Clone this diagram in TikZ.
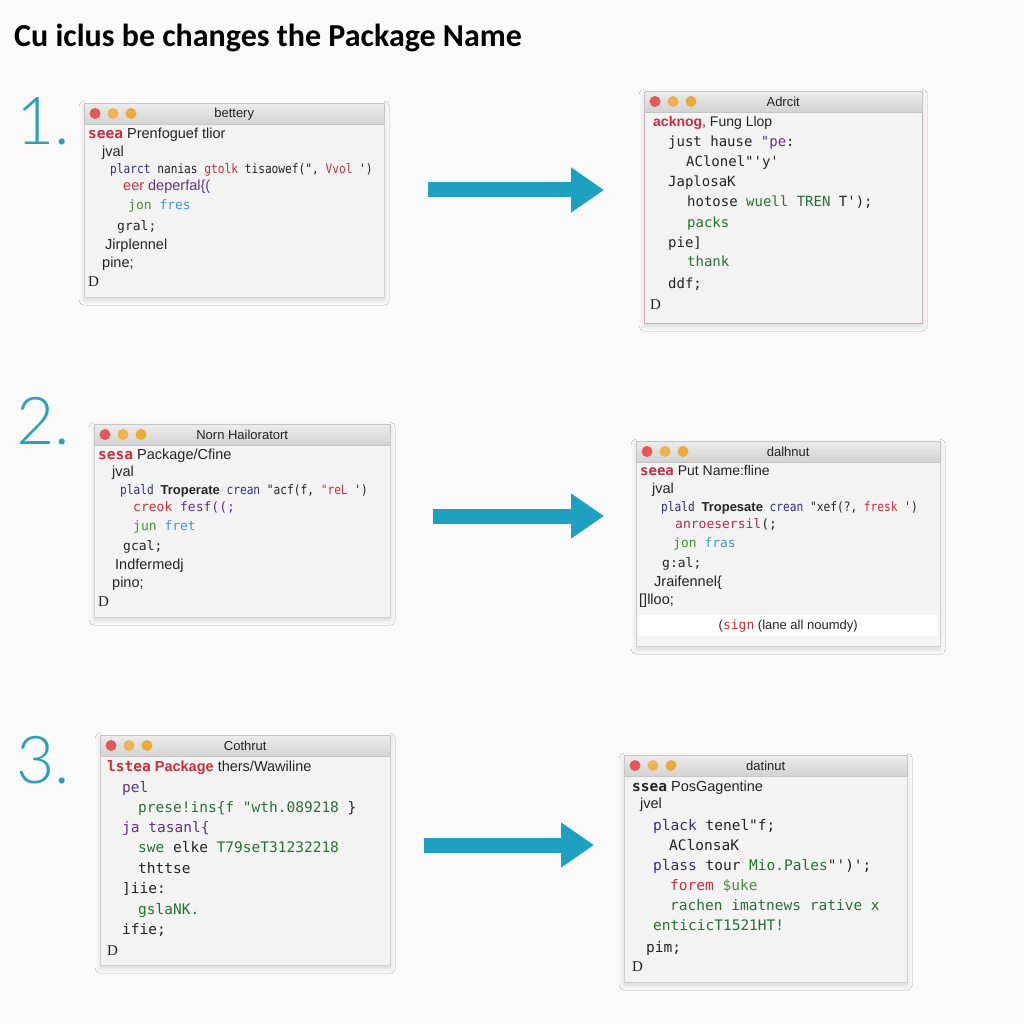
\documentclass[tikz,border=0pt]{standalone}
\usepackage{fontspec}
\setmainfont{Liberation Sans}
\newfontfamily\codefont{DejaVu Sans Mono}
\newfontfamily\codenarrow{DejaVu Sans Mono}[FakeStretch=0.86]
\newfontfamily\headfont{Carlito}
\newfontfamily\numfont{Lato Light}
\newfontfamily\dfont{Liberation Serif}
\usetikzlibrary{arrows.meta,calc,shadows.blur}

\definecolor{pagebg}{RGB}{250,250,250}
\definecolor{winbg}{RGB}{243,243,243}
\definecolor{barhi}{RGB}{236,236,236}
\definecolor{barlo}{RGB}{210,210,210}
\definecolor{winpink}{RGB}{214,172,182}
\definecolor{tealc}{RGB}{30,160,192}
\definecolor{numc}{RGB}{45,160,185}
\definecolor{kred}{RGB}{200,45,60}
\definecolor{knavy}{RGB}{50,45,125}
\definecolor{kpurp}{RGB}{95,50,135}
\definecolor{kgreen}{RGB}{75,140,55}
\definecolor{kdgreen}{RGB}{40,110,55}
\definecolor{kblue}{RGB}{70,150,200}
\definecolor{ktext}{RGB}{35,35,35}
\definecolor{dotr}{RGB}{228,88,90}
\definecolor{doto}{RGB}{240,178,80}
\definecolor{doty}{RGB}{236,170,60}

\begin{document}
\begin{tikzpicture}[
  x=1pt,y=-1pt,
  win/.style={draw=gray!35,fill=winbg,anchor=north west,inner sep=0pt,
    blur shadow={shadow xshift=0pt,shadow yshift=-3pt,shadow blur radius=5pt,shadow opacity=14}},
  bar/.style={anchor=north west,minimum height=21pt,inner sep=0pt,top color=barhi,bottom color=barlo,
    draw=gray!45,text=ktext,font=\fontsize{13}{13}\selectfont},
  cl/.style={anchor=west,inner sep=0pt,text height=10pt,text depth=3pt,text=ktext,
    font=\codefont\fontsize{13}{13}\selectfont},
  cln/.style={cl,font=\codenarrow\fontsize{13}{13}\selectfont},
  clm/.style={cl,font=\codefont\fontsize{14}{14}\selectfont},
  clb/.style={cl,font=\codefont\fontsize{14.5}{14.5}\selectfont},
  sl/.style={cl,font=\fontsize{14.5}{14.5}\selectfont},
  slm/.style={cl,font=\fontsize{14}{14}\selectfont},
  slb/.style={cl,font=\fontsize{14.5}{14.5}\selectfont},
  dl/.style={cl,font=\dfont\fontsize{15}{15}\selectfont},
  num/.style={anchor=west,inner sep=0pt,text=numc,font=\numfont\fontsize{66}{66}\selectfont},
  bigarrow/.style={draw=tealc,line width=15pt,-{Triangle[length=33pt,width=43pt]}}]

  \fill[pagebg] (0,0) rectangle (1024,1024);
  \useasboundingbox (0,0) rectangle (1024,1024);

  % title
  \node[anchor=base west,inner sep=0pt,font=\headfont\bfseries\fontsize{32}{32}\selectfont] (title) at (14,47)
    {Cu iclus be changes the Package Name};

  % step numbers
  \node[num] (n1) at (16,121) {1.};
  \node[num] (n2) at (16,421) {2.};
  \node[num] (n3) at (16,760) {3.};

  % ================= windows =================
  \node[win,minimum width=300pt,minimum height=194pt] (w1) at (84,103) {};
  \node[bar,minimum width=300pt] (w1bar) at (w1.north west) {bettery};
  \node[win,draw=winpink,minimum width=278pt,minimum height=232pt] (w2) at (644,91) {};
  \node[bar,minimum width=278pt] (w2bar) at (w2.north west) {Adrcit};
  \node[win,minimum width=296pt,minimum height=193pt] (w3) at (94,424) {};
  \node[bar,minimum width=296pt] (w3bar) at (w3.north west) {Norn Hailoratort};
  \node[win,minimum width=304pt,minimum height=205pt] (w4) at (636,441) {};
  \node[bar,minimum width=304pt] (w4bar) at (w4.north west) {dalhnut};
  \node[win,minimum width=290pt,minimum height=230pt] (w5) at (100,735) {};
  \node[bar,minimum width=290pt] (w5bar) at (w5.north west) {Cothrut};
  \node[win,minimum width=283pt,minimum height=227pt] (w6) at (624,755) {};
  \node[bar,minimum width=283pt] (w6bar) at (w6.north west) {datinut};

  % window buttons
  \foreach \w in {w1,w2,w3,w4,w5,w6}
    \foreach \c/\dx in {dotr/11,doto/29,doty/47}
      \fill[\c] ($(\w.north west)+(\dx,10.5)$) circle[radius=5.5pt];

  % ================= step 1 =================
  \node[sl] (w1a) at (88,135) {{\codefont\bfseries\textcolor{kred}{seea}} Prenfoguef tlior};
  \node[sl] (w1b) at (102,153) {jval};
  \node[cln] (w1c) at (110,170)
    {\textcolor{knavy}{plarct} nanias \textcolor{kred}{gtolk} tisaowef(", \textcolor{kred}{Vvol} ')};
  \node[sl] (w1d) at (123,187) {\textcolor{kred}{eer} \textcolor{kpurp}{deperfal\{(}};
  \node[cl] (w1e) at (128,206) {\textcolor{kgreen}{jon} \textcolor{kblue}{fres}};
  \node[cl] (w1f) at (117,227) {gral;};
  \node[sl] (w1g) at (105,246) {Jirplennel};
  \node[sl] (w1h) at (102,264) {pine;};
  \node[dl] (w1i) at (88,283) {D};

  \node[slm] (w2a) at (653,123) {\textbf{\textcolor{kred}{acknog}}, Fung Llop};
  \node[clm] (w2b) at (668,143) {just hause \textcolor{kpurp}{"pe}:};
  \node[clm] (w2c) at (686,163) {AClonel"'y'};
  \node[clm] (w2d) at (668,183) {JaplosaK};
  \node[clm] (w2e) at (687,203) {hotose \textcolor{kdgreen}{wuell TREN} T');};
  \node[clm] (w2f) at (687,224) {\textcolor{kdgreen}{packs}};
  \node[clm] (w2g) at (668,244) {pie]};
  \node[clm] (w2h) at (687,263) {\textcolor{kdgreen}{thank}};
  \node[clm] (w2i) at (668,285) {ddf;};
  \node[dl] (w2j) at (650,306) {D};

  % ================= step 2 =================
  \node[sl] (w3a) at (98,456) {{\codefont\bfseries\textcolor{kred}{sesa}} Package/Cfine};
  \node[sl] (w3b) at (112,473) {jval};
  \node[cln] (w3c) at (120,491)
    {\textcolor{knavy}{plald} {\normalfont\bfseries Troperate} \textcolor{knavy}{crean} "acf(f, \textcolor{kred}{"reL} ')};
  \node[cl] (w3d) at (133,508) {\textcolor{kred}{creok} \textcolor{kpurp}{fesf((;}};
  \node[cl] (w3e) at (133,527) {\textcolor{kgreen}{jun} \textcolor{kblue}{fret}};
  \node[cl] (w3f) at (123,547) {gcal;};
  \node[sl] (w3g) at (115,566) {Indfermedj};
  \node[sl] (w3h) at (112,584) {pino;};
  \node[dl] (w3i) at (98,603) {D};

  \node[slm] (w4a) at (640,472) {{\codefont\bfseries\textcolor{kred}{seea}} Put Name:fline};
  \node[sl] (w4b) at (652,490) {jval};
  \node[cln] (w4c) at (661,508)
    {\textcolor{knavy}{plald} {\normalfont\bfseries Tropesate} \textcolor{knavy}{crean} "xef(?, \textcolor{kred}{fresk} ')};
  \node[cl] (w4d) at (675,525) {\textcolor{kred!70!kpurp}{anroesersil}(;};
  \node[cl] (w4e) at (673,544) {\textcolor{kgreen}{jon} \textcolor{kblue}{fras}};
  \node[cl] (w4f) at (662,564) {g:al;};
  \node[sl] (w4g) at (654,583) {Jraifennel\{};
  \node[sl] (w4h) at (639,601) {[]lloo;};
  \node[fill=white,anchor=north west,minimum width=298pt,minimum height=21pt,inner sep=0pt,
    text=ktext,font=\fontsize{13}{13}\selectfont] (w4foot) at (639,615)
    {({\codefont\textcolor{kred}{sign}} (lane all noumdy)};

  % ================= step 3 =================
  \node[slb] (w5a) at (107,768) {{\codefont\bfseries\textcolor{kred}{lstea}} \textcolor{kred}{\bfseries Package} thers/Wawiline};
  \node[clb] (w5b) at (122,789) {\textcolor{kpurp}{pel}};
  \node[clb] (w5c) at (138,809) {\textcolor{kdgreen}{prese!ins\{f "wth.089218} \}};
  \node[clb] (w5d) at (122,829) {\textcolor{kpurp}{ja tasanl\{}};
  \node[clb] (w5e) at (138,849) {\textcolor{kdgreen}{swe} elke \textcolor{kdgreen}{T79seT31232218}};
  \node[clb] (w5f) at (138,870) {thttse};
  \node[clb] (w5g) at (122,890) {]iie:};
  \node[clb] (w5h) at (138,911) {\textcolor{kdgreen}{gslaNK.}};
  \node[clb] (w5i) at (122,931) {ifie;};
  \node[dl] (w5j) at (107,952) {D};

  \node[slb] (w6a) at (632,788) {{\codefont\bfseries ssea} PosGagentine};
  \node[sl] (w6b) at (640,805) {jvel};
  \node[clb] (w6c) at (653,827) {\textcolor{knavy}{plack} tenel"f;};
  \node[clb] (w6d) at (669,847) {AClonsaK};
  \node[clb] (w6e) at (653,867) {\textcolor{knavy}{plass} tour \textcolor{kdgreen}{Mio.Pales}"')';};
  \node[clb] (w6f) at (670,887) {\textcolor{kred}{forem} \textcolor{kgreen}{\$uke}};
  \node[clb] (w6g) at (670,907) {\textcolor{kdgreen}{rachen imatnews rative x}};
  \node[clb] (w6h) at (653,927) {\textcolor{kdgreen}{enticicT1521HT!}};
  \node[clb] (w6i) at (646,949) {pim;};
  \node[dl] (w6j) at (632,968) {D};

  % ================= arrows =================
  \coordinate (a1s) at (428,190);
  \coordinate (a1e) at (604,190);
  \coordinate (a2s) at (433,516);
  \coordinate (a2e) at (604,516);
  \coordinate (a3s) at (424,845);
  \coordinate (a3e) at (594,845);
  \draw[bigarrow] (a1s) -- (a1e);
  \draw[bigarrow] (a2s) -- (a2e);
  \draw[bigarrow] (a3s) -- (a3e);
\end{tikzpicture}
\end{document}
